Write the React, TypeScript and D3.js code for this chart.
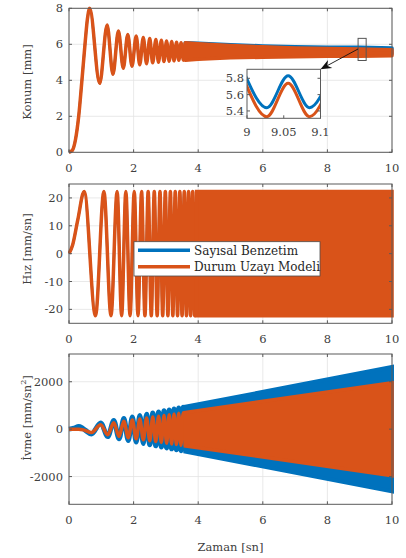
import React from "react";
import * as d3 from "d3";

// ---------- data ----------
const xTicks = [0, 2, 4, 6, 8, 10];
const posTicks = [0, 2, 4, 6, 8];
const velTicks = [-20, -10, 0, 10, 20];
const accTicks = [-2000, 0, 2000];
const insetXTicks = [9, 9.05, 9.1];
const insetYTicks = [5.4, 5.6, 5.8];
const seriesNames = ["Sayısal Benzetim", "Durum Uzayı Modeli"];

// Position: resolved oscillation (both models coincide here)
const posT = [0, 0.1, 0.2, 0.3, 0.4, 0.5, 0.57, 0.64, 0.95, 1.18, 1.36, 1.53, 1.68, 1.82, 1.95, 2.08, 2.19, 2.30, 2.40, 2.50, 2.59, 2.69, 2.77, 2.86, 2.94, 3.02, 3.10, 3.18, 3.25, 3.33, 3.40, 3.47, 3.54, 3.60];
const posV = [0, 0.1, 0.7, 2.0, 4.0, 6.1, 7.4, 8.0, 3.83, 7.07, 4.33, 6.74, 4.67, 6.55, 4.78, 6.46, 4.86, 6.38, 4.92, 6.32, 4.97, 6.26, 5.00, 6.22, 5.04, 6.19, 5.06, 6.15, 5.08, 6.12, 5.11, 6.09, 5.12, 6.08];
// Position: dense part envelopes
const posBandT = [3.6, 4, 5, 6, 7, 8, 9, 10];
const posOrangeUpper = [6.08, 6.03, 5.93, 5.86, 5.80, 5.76, 5.74, 5.70];
const posOrangeLower = [5.12, 5.17, 5.25, 5.28, 5.31, 5.34, 5.34, 5.36];
const posBlueUpper = [6.09, 6.06, 5.97, 5.91, 5.86, 5.83, 5.83, 5.80];
const posBlueLower = [5.15, 5.215, 5.31, 5.35, 5.395, 5.43, 5.44, 5.47];

// Inset (zoom 9 - 9.1 s)
const insetT = [8.998, 9.027, 9.056, 9.085, 9.113];
const insetBlue = [5.83, 5.44, 5.83, 5.44, 5.83];
const insetOrange = [5.74, 5.33, 5.74, 5.33, 5.74];

// Velocity
const velT = [0, 0.11, 0.27, 0.47, 0.82, 1.08, 1.30, 1.49, 1.63, 1.76, 1.89, 2.02, 2.137, 2.247, 2.351, 2.451, 2.548, 2.640, 2.730, 2.817, 2.901, 2.982, 3.062, 3.139, 3.215, 3.289, 3.361, 3.432, 3.501, 3.569, 3.636, 3.702, 3.766, 3.829, 3.892, 3.953];
const velV = [0, 3, 12, 22.3, -22.3, 22.3, -22.3, 22.3, -22.3, 22.3, -22.3, 22.3, -22.3, 22.3, -22.3, 22.3, -22.3, 22.3, -22.3, 22.3, -22.3, 22.3, -22.3, 22.3, -22.3, 22.3, -22.3, 22.3, -22.3, 22.3, -22.3, 22.3, -22.3, 22.3, -22.3, 22.3];
const velBandT = [3.95, 10];
const velBandUpper = [22.3, 22.3];
const velBandLower = [-22.3, -22.3];

// Acceleration
const accOrangeT = [0, 0.3, 0.45, 0.693, 0.981, 1.201, 1.387, 1.55, 1.698, 1.835, 1.961, 2.08, 2.193, 2.30, 2.402, 2.50, 2.594, 2.685, 2.774, 2.859, 2.942, 3.022, 3.101, 3.177, 3.252, 3.325, 3.397, 3.467, 3.536, 3.603];
const accOrangeV = [0, 0, -30, -140, 190, -235, 272, -304, 333, -360, 384, -408, 430, -451, 471, -490, 508, -526, 544, -560, 577, -592, 608, -623, 637, -652, 666, -680, 693, -706];
const accBlueT = [0, 0.15, 0.3, 0.4, 0.5, 0.693, 0.981, 1.201, 1.387, 1.55, 1.698, 1.835, 1.961, 2.08, 2.193, 2.30, 2.402, 2.50, 2.594, 2.685, 2.774, 2.859, 2.942, 3.022, 3.101, 3.177, 3.252, 3.325, 3.397, 3.467, 3.536, 3.603];
const accBlueV = [0, 40, 110, 60, -40, -200, 262, -315, 363, -406, 445, -481, 514, -545, 575, -603, 629, -655, 680, -703, 727, -749, 771, -792, 812, -832, 852, -871, 890, -908, 926, -944];
const accBandT = [3.6, 10];
const accOrangeUpper = [706, 1960];
const accOrangeLower = [-706, -1960];
const accBlueUpper = [944, 2620];
const accBlueLower = [-944, -2620];

// ---------- styles ----------
const BLUE = "#0072BD";
const ORANGE = "#D95319";
const TEXT = "#404040";
const FONT = "'DejaVu Serif', serif";
const FS = 11.5;

const X0 = 69, X1 = 392;
const panels = [
  { top: 8.3, bottom: 152.3, domain: [0, 8], ticks: posTicks },
  { top: 184, bottom: 323.3, domain: [-25, 25], ticks: velTicks },
  { top: 354, bottom: 504.3, domain: [-3170, 3170], ticks: accTicks },
];
const INSET = { left: 247, right: 320.5, top: 69.3, bottom: 118.3 };

const x = d3.scaleLinear().domain([0, 10]).range([X0, X1]);
const ys = panels.map((p) => d3.scaleLinear().domain(p.domain).range([p.bottom, p.top]));
const xi = d3.scaleLinear().domain([9, 9.1]).range([INSET.left, INSET.right]);
const yi = d3.scaleLinear().domain([5.31, 5.91]).range([INSET.bottom, INSET.top]);

function linePath(ts: number[], vs: number[], xs: any, yy: any) {
  const pts = ts.map((t, i) => [t, vs[i]] as [number, number]);
  return d3.line<[number, number]>().x((d) => xs(d[0])).y((d) => yy(d[1])).curve(d3.curveMonotoneX)(pts) || "";
}
function bandPath(ts: number[], lo: number[], hi: number[], yy: any) {
  const pts = ts.map((t, i) => ({ t, lo: lo[i], hi: hi[i] }));
  return d3.area<any>().x((d) => x(d.t)).y0((d) => yy(d.lo)).y1((d) => yy(d.hi))(pts) || "";
}

function Frame({ i }: { i: number }) {
  const p = panels[i];
  const y = ys[i];
  return (
    <g>
      {xTicks.map((t) => (
        <line key={"gx" + t} x1={x(t)} x2={x(t)} y1={p.top} y2={p.bottom} stroke="#e3e3e3" strokeWidth={0.8} />
      ))}
      {p.ticks.map((t) => (
        <line key={"gy" + t} x1={X0} x2={X1} y1={y(t)} y2={y(t)} stroke="#e3e3e3" strokeWidth={0.8} />
      ))}
    </g>
  );
}

function Axes({ i }: { i: number }) {
  const p = panels[i];
  const y = ys[i];
  return (
    <g>
      <rect x={X0} y={p.top} width={X1 - X0} height={p.bottom - p.top} fill="none" stroke="#5a5a5a" strokeWidth={1} />
      {xTicks.map((t) => (
        <g key={"tx" + t}>
          <line x1={x(t)} x2={x(t)} y1={p.bottom} y2={p.bottom - 3} stroke="#5a5a5a" />
          <line x1={x(t)} x2={x(t)} y1={p.top} y2={p.top + 3} stroke="#5a5a5a" />
          <text x={x(t)} y={p.bottom + 16} textAnchor="middle" dy="0.35em" fontFamily={FONT} fontSize={FS} fill={TEXT}>
            {t}
          </text>
        </g>
      ))}
      {p.ticks.map((t) => (
        <g key={"ty" + t}>
          <line x1={X0} x2={X0 + 3} y1={y(t)} y2={y(t)} stroke="#5a5a5a" />
          <line x1={X1} x2={X1 - 3} y1={y(t)} y2={y(t)} stroke="#5a5a5a" />
          <text x={X0 - 6} y={y(t)} textAnchor="end" dy="0.35em" fontFamily={FONT} fontSize={FS} fill={TEXT}>
            {t}
          </text>
        </g>
      ))}
    </g>
  );
}

export default function App() {
  const y0 = ys[0], y1 = ys[1], y2 = ys[2];
  // zoom rectangle in data coords
  const rx0 = x(8.95), rx1 = x(9.2), ry0 = y0(6.33), ry1 = y0(5.1);
  // arrow
  const ax0 = x(8.95), ay0 = y0(5.74);
  const ax1 = INSET.right, ay1 = INSET.top;
  const dx = ax1 - ax0, dy = ay1 - ay0;
  const len = Math.hypot(dx, dy);
  const ux = dx / len, uy = dy / len;
  const L = 11, Wd = 4.5;
  const bx = ax1 - ux * L, by = ay1 - uy * L;
  const nx = ax1 - ux * L * 0.7, ny = ay1 - uy * L * 0.7;
  const head = [
    [ax1, ay1],
    [bx - uy * Wd, by + ux * Wd],
    [nx, ny],
    [bx + uy * Wd, by - ux * Wd],
  ]
    .map((q) => q.join(","))
    .join(" ");

  return (
    <svg width={406} height={558} style={{ position: "absolute", left: 0, top: 0, background: "#fff" }}>
      <defs>
        {panels.map((p, i) => (
          <clipPath id={"clip" + i} key={i}>
            <rect x={X0 - 1} y={p.top - 2} width={X1 - X0 + 3} height={p.bottom - p.top + 4} />
          </clipPath>
        ))}
        <clipPath id="clipInset">
          <rect x={INSET.left} y={INSET.top} width={INSET.right - INSET.left} height={INSET.bottom - INSET.top} />
        </clipPath>
      </defs>
      <rect x={0} y={0} width={406} height={558} fill="#fff" />

      {/* Panel 1: Konum */}
      <Frame i={0} />
      <g clipPath="url(#clip0)">
        <path d={linePath(posT, posV, x, y0)} fill="none" stroke={BLUE} strokeWidth={2.4} />
        <path d={bandPath(posBandT, posBlueLower, posBlueUpper, y0)} fill={BLUE} stroke={BLUE} strokeWidth={3.5} strokeLinejoin="round" />
        <path d={linePath(posT, posV, x, y0)} fill="none" stroke={ORANGE} strokeWidth={3.5} />
        <path d={bandPath(posBandT, posOrangeLower, posOrangeUpper, y0)} fill={ORANGE} stroke={ORANGE} strokeWidth={3.5} strokeLinejoin="round" />
      </g>
      <Axes i={0} />
      <rect x={rx0} y={ry0} width={rx1 - rx0} height={ry1 - ry0} fill="none" stroke="#555" strokeWidth={1} />
      <line x1={ax0} y1={ay0} x2={nx} y2={ny} stroke="#111" strokeWidth={0.9} />
      <polygon points={head} fill="#111" />

      {/* Inset */}
      <rect x={INSET.left} y={INSET.top} width={INSET.right - INSET.left} height={INSET.bottom - INSET.top} fill="#fff" />
      <g clipPath="url(#clipInset)">
        <path d={linePath(insetT, insetBlue, xi, yi)} fill="none" stroke={BLUE} strokeWidth={3} />
        <path d={linePath(insetT, insetOrange, xi, yi)} fill="none" stroke={ORANGE} strokeWidth={3} />
      </g>
      <rect x={INSET.left} y={INSET.top} width={INSET.right - INSET.left} height={INSET.bottom - INSET.top} fill="none" stroke="#5a5a5a" strokeWidth={1} />
      {insetYTicks.map((t) => (
        <g key={"iy" + t}>
          <line x1={INSET.left} x2={INSET.left + 3} y1={yi(t)} y2={yi(t)} stroke="#5a5a5a" />
          <line x1={INSET.right} x2={INSET.right - 3} y1={yi(t)} y2={yi(t)} stroke="#5a5a5a" />
          <text x={INSET.left - 3} y={yi(t)} dy="0.35em" textAnchor="end" fontFamily={FONT} fontSize={FS} fill={TEXT}>
            {t.toFixed(1)}
          </text>
        </g>
      ))}
      {insetXTicks.map((t) => (
        <g key={"ix" + t}>
          <line x1={xi(t)} x2={xi(t)} y1={INSET.bottom} y2={INSET.bottom - 3} stroke="#5a5a5a" />
          <text x={xi(t)} y={INSET.bottom + 14} dy="0.35em" textAnchor="middle" fontFamily={FONT} fontSize={FS} fill={TEXT}>
            {t}
          </text>
        </g>
      ))}

      {/* Panel 2: Hız */}
      <Frame i={1} />
      <g clipPath="url(#clip1)">
        <path d={linePath(velT, velV, x, y1)} fill="none" stroke={BLUE} strokeWidth={2.4} />
        <path d={bandPath(velBandT, velBandLower, velBandUpper, y1)} fill={BLUE} stroke={BLUE} strokeWidth={2.4} />
        <path d={linePath(velT, velV, x, y1)} fill="none" stroke={ORANGE} strokeWidth={3.5} />
        <path d={bandPath(velBandT, velBandLower, velBandUpper, y1)} fill={ORANGE} stroke={ORANGE} strokeWidth={3.5} />
      </g>
      <Axes i={1} />

      {/* Legend */}
      <g>
        <rect x={134} y={241.7} width={186} height={34.3} fill="#fff" stroke="#4d4d4d" strokeWidth={0.8} />
        {seriesNames.map((n, k) => (
          <g key={n}>
            <line x1={138} x2={190} y1={250.3 + k * 16.4} y2={250.3 + k * 16.4} stroke={k === 0 ? BLUE : ORANGE} strokeWidth={3.5} />
            <text x={194} y={250.3 + k * 16.4} dy="0.35em" fontFamily={FONT} fontSize={12} fill="#262626">
              {n}
            </text>
          </g>
        ))}
      </g>

      {/* Panel 3: İvme */}
      <Frame i={2} />
      <g clipPath="url(#clip2)">
        <path d={linePath(accBlueT, accBlueV, x, y2)} fill="none" stroke={BLUE} strokeWidth={5} strokeLinejoin="round" />
        <path d={bandPath(accBandT, accBlueLower, accBlueUpper, y2)} fill={BLUE} stroke={BLUE} strokeWidth={4} />
        <path d={linePath(accOrangeT, accOrangeV, x, y2)} fill="none" stroke={ORANGE} strokeWidth={3.5} />
        <path d={bandPath(accBandT, accOrangeLower, accOrangeUpper, y2)} fill={ORANGE} stroke={ORANGE} strokeWidth={3.5} />
      </g>
      <Axes i={2} />

      {/* Axis labels */}
      <text transform="translate(31,82) rotate(-90)" textAnchor="middle" fontFamily={FONT} fontSize={FS} fill={TEXT}>
        Konum [mm]
      </text>
      <text transform="translate(31,249) rotate(-90)" textAnchor="middle" fontFamily={FONT} fontSize={FS} fill={TEXT}>
        Hız [mm/sn]
      </text>
      <text transform="translate(31,418) rotate(-90)" textAnchor="middle" fontFamily={FONT} fontSize={FS} fill={TEXT}>
        <tspan>İvme [mm/sn</tspan>
        <tspan dy={-5} fontSize={8}>2</tspan>
        <tspan dy={5}>]</tspan>
      </text>
      <text x={(X0 + X1) / 2} y={547} dy="0.35em" textAnchor="middle" fontFamily={FONT} fontSize={FS} fill={TEXT}>
        Zaman [sn]
      </text>
    </svg>
  );
}
